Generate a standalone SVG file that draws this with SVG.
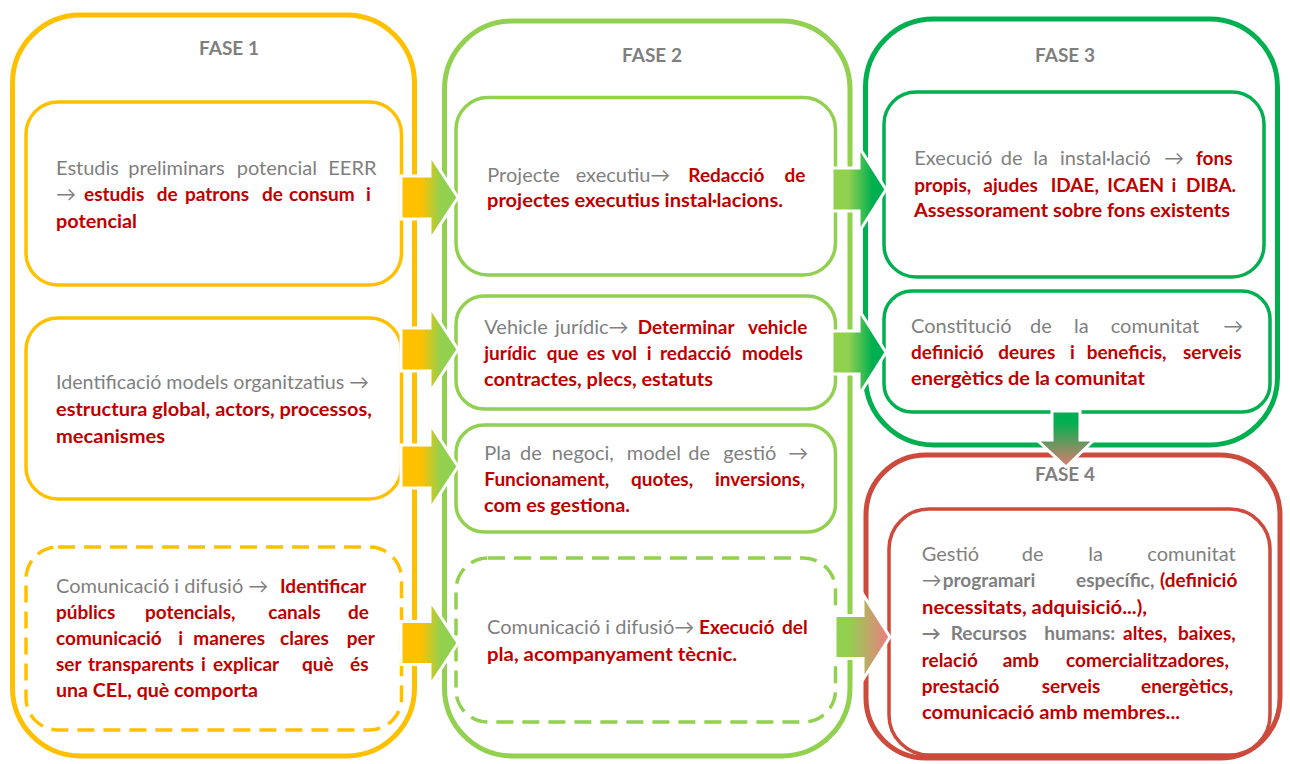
<svg xmlns="http://www.w3.org/2000/svg" width="1290" height="764" viewBox="0 0 1290 764">
<defs>
<style>
.outer{fill:none;stroke-width:5}
.inner{fill:#fff;stroke-width:3.5}
.y{stroke:#FFC000}.lg{stroke:#92D050}.g{stroke:#00B050}.r{stroke:#CC4B3C}
.dash{stroke-dasharray:17 9}
.t{font-family:Lato,'Liberation Sans','DejaVu Sans',sans-serif;font-size:20px;fill:#7F7F7F}
.b{font-weight:bold;fill:#C00000;font-size:19px}
.gb{font-weight:bold;fill:#7F7F7F;font-size:19px}
.title{font-family:Lato,'Liberation Sans',sans-serif;font-weight:bold;font-size:19px;fill:#7F7F7F;text-anchor:middle}
.arrow{stroke:#fff;stroke-width:3;stroke-linejoin:miter}
</style>
<linearGradient id="gY" x1="0" y1="0" x2="1" y2="0"><stop offset="0.35" stop-color="#FFC000"/><stop offset="0.7" stop-color="#92D050"/></linearGradient>
<linearGradient id="gG" x1="0" y1="0" x2="1" y2="0"><stop offset="0.3" stop-color="#92D050"/><stop offset="0.75" stop-color="#00B050"/></linearGradient>
<linearGradient id="gR" x1="0" y1="0" x2="1" y2="0"><stop offset="0.25" stop-color="#92D050"/><stop offset="0.9" stop-color="#E3867B"/></linearGradient>
<linearGradient id="gD" x1="0" y1="0" x2="0" y2="1"><stop offset="0.2" stop-color="#00B050"/><stop offset="1" stop-color="#E07A6E"/></linearGradient>
</defs>
<rect width="1290" height="764" fill="#fff"/>

<g id="fase1">
<rect class="outer y" x="12.5" y="15" width="402" height="741" rx="68"/>
<text class="title" x="229" y="55">FASE 1</text>
</g>
<g id="fase2">
<rect class="outer lg" x="444.5" y="21" width="405.5" height="735" rx="68"/>
<text class="title" x="652" y="62">FASE 2</text>
</g>
<g id="fase3">
<rect class="outer g" x="865.5" y="19" width="412" height="426" rx="68"/>
<text class="title" x="1065" y="62">FASE 3</text>
</g>
<g id="fase4">
<rect class="outer r" x="866" y="455" width="414" height="303" rx="60"/>
<text class="title" x="1065" y="481">FASE 4</text>
</g>

<g id="estudis">
<rect class="inner y" x="26" y="102" width="375.5" height="183" rx="32"/>
<text class="t" y="175"><tspan x="56">Estudis</tspan><tspan x="128.3">preliminars</tspan><tspan x="236.7">potencial</tspan><tspan x="328.3">EERR</tspan></text>
<text class="t" y="201"><tspan x="56">→</tspan><tspan class="b" x="84">estudis</tspan><tspan class="b" x="156.7">de</tspan><tspan class="b" x="185">patrons</tspan><tspan class="b" x="262">de</tspan><tspan class="b" x="289">consum</tspan><tspan class="b" x="366">i</tspan></text>
<text class="t b" x="56" y="228" textLength="81" lengthAdjust="spacingAndGlyphs">potencial</text>
</g>

<g id="models">
<rect class="inner y" x="26" y="318" width="375.5" height="181" rx="32"/>
<text class="t" x="56" y="389" textLength="313" lengthAdjust="spacingAndGlyphs">Identificació models organitzatius →</text>
<text class="t b" x="56" y="416" textLength="316" lengthAdjust="spacingAndGlyphs">estructura global, actors, processos,</text>
<text class="t b" x="56" y="443" textLength="109" lengthAdjust="spacingAndGlyphs">mecanismes</text>
</g>

<g id="comunicacio1">
<rect class="inner y dash" x="26" y="547" width="375.5" height="183" rx="32"/>
<text class="t" y="593"><tspan x="56">Comunicació i difusió →</tspan><tspan class="b" x="280">Identificar</tspan></text>
<text class="t b" y="619"><tspan x="56">públics</tspan><tspan x="145">potencials,</tspan><tspan x="268.3">canals</tspan><tspan x="348">de</tspan></text>
<text class="t b" y="645"><tspan x="56">comunicació</tspan><tspan x="178.3">i</tspan><tspan x="193.3">maneres</tspan><tspan x="280">clares</tspan><tspan x="346.7">per</tspan></text>
<text class="t b" y="671"><tspan x="56">ser</tspan><tspan x="88">transparents</tspan><tspan x="201">i</tspan><tspan x="213">explicar</tspan><tspan x="302">què</tspan><tspan x="350">és</tspan></text>
<text class="t b" x="56" y="697" textLength="202" lengthAdjust="spacingAndGlyphs">una CEL, què comporta</text>
</g>

<g id="projecte">
<rect class="inner lg" x="456" y="97.5" width="379.5" height="177.5" rx="32"/>
<text class="t" y="182"><tspan x="487.3">Projecte</tspan><tspan x="575.7">executiu→</tspan><tspan class="b" x="688.3">Redacció</tspan><tspan class="b" x="784.5">de</tspan></text>
<text class="t b" x="487" y="207" textLength="296" lengthAdjust="spacingAndGlyphs">projectes executius instal·lacions.</text>
</g>

<g id="vehicle">
<rect class="inner lg" x="456" y="296" width="379.5" height="113" rx="28"/>
<text class="t" y="334"><tspan x="484.3">Vehicle</tspan><tspan x="555">jurídic→</tspan><tspan class="b" x="637.7">Determinar</tspan><tspan class="b" x="748">vehicle</tspan></text>
<text class="t b" y="360"><tspan x="484.3">jurídic</tspan><tspan x="546.7">que</tspan><tspan x="586.7">es</tspan><tspan x="611.7">vol</tspan><tspan x="646.7">i</tspan><tspan x="660">redacció</tspan><tspan x="742">models</tspan></text>
<text class="t b" x="484" y="386" textLength="229" lengthAdjust="spacingAndGlyphs">contractes, plecs, estatuts</text>
</g>

<g id="negoci">
<rect class="inner lg" x="456" y="425" width="379.5" height="107" rx="28"/>
<text class="t" y="460"><tspan x="484.3">Pla</tspan><tspan x="520">de</tspan><tspan x="551.7">negoci,</tspan><tspan x="626.7">model</tspan><tspan x="688.3">de</tspan><tspan x="723.3">gestió</tspan><tspan x="788.3">→</tspan></text>
<text class="t b" y="486"><tspan x="484.3">Funcionament,</tspan><tspan x="631">quotes,</tspan><tspan x="715">inversions,</tspan></text>
<text class="t b" x="484" y="512" textLength="146" lengthAdjust="spacingAndGlyphs">com es gestiona.</text>
</g>

<g id="comunicacio2">
<rect class="inner lg dash" x="456" y="558" width="379.5" height="164" rx="32"/>
<text class="t" y="634"><tspan x="487">Comunicació i difusió→</tspan><tspan class="b" x="699">Execució</tspan><tspan class="b" x="782">del</tspan></text>
<text class="t b" x="487" y="661" textLength="250" lengthAdjust="spacingAndGlyphs">pla, acompanyament tècnic.</text>
</g>

<g id="execucio">
<rect class="inner g" x="884" y="92" width="380" height="185" rx="32"/>
<text class="t" y="165"><tspan x="914.3">Execució</tspan><tspan x="1000.7">de</tspan><tspan x="1033.3">la</tspan><tspan x="1060">instal·lació</tspan><tspan x="1164">→</tspan><tspan class="b" x="1196">fons</tspan></text>
<text class="t b" y="192"><tspan x="914.3">propis,</tspan><tspan x="983.3">ajudes</tspan><tspan x="1050.7">IDAE,</tspan><tspan x="1107.3">ICAEN</tspan><tspan x="1171.5">i</tspan><tspan x="1186">DIBA.</tspan></text>
<text class="t b" x="914" y="217" textLength="316" lengthAdjust="spacingAndGlyphs">Assessorament sobre fons existents</text>
</g>

<g id="constitucio">
<rect class="inner g" x="884" y="291" width="386" height="121" rx="28"/>
<text class="t" y="333"><tspan x="911">Constitució</tspan><tspan x="1030">de</tspan><tspan x="1074">la</tspan><tspan x="1110.7">comunitat</tspan><tspan x="1223.3">→</tspan></text>
<text class="t b" y="359"><tspan x="911">definició</tspan><tspan x="998.3">deures</tspan><tspan x="1070">i</tspan><tspan x="1086.7">beneficis,</tspan><tspan x="1183">serveis</tspan></text>
<text class="t b" x="911" y="385" textLength="234" lengthAdjust="spacingAndGlyphs">energètics de la comunitat</text>
</g>

<g id="gestio">
<rect class="inner r" x="889" y="509" width="381" height="246" rx="40"/>
<text class="t" y="561"><tspan x="921.7">Gestió</tspan><tspan x="1021.7">de</tspan><tspan x="1088.3">la</tspan><tspan x="1147.3">comunitat</tspan></text>
<text class="t" y="587"><tspan x="921.7">→</tspan><tspan class="gb" x="942.7">programari</tspan><tspan class="gb" x="1076">específic,</tspan><tspan class="b" x="1160">(definició</tspan></text>
<text class="t b" x="922" y="614" textLength="225" lengthAdjust="spacingAndGlyphs">necessitats, adquisició...),</text>
<text class="t gb" y="640"><tspan x="921.7">→</tspan><tspan x="950.7">Recursos</tspan><tspan x="1044.3">humans:</tspan><tspan class="b" x="1123">altes,</tspan><tspan class="b" x="1178">baixes,</tspan></text>
<text class="t b" y="667"><tspan x="921.7">relació</tspan><tspan x="1002.7">amb</tspan><tspan x="1066">comercialitzadores,</tspan></text>
<text class="t b" y="693"><tspan x="921.7">prestació</tspan><tspan x="1041.7">serveis</tspan><tspan x="1141">energètics,</tspan></text>
<text class="t b" x="922" y="719" textLength="258" lengthAdjust="spacingAndGlyphs">comunicació amb membres...</text>
</g>

<g id="connectors">
<polygon class="arrow" fill="url(#gY)" points="401,176 430,176 430,155 458,197.5 430,240 430,219 401,219"/>
<polygon class="arrow" fill="url(#gY)" points="401,328 430,328 430,307 458,349.5 430,392 430,371 401,371"/>
<polygon class="arrow" fill="url(#gY)" points="401,445 430,445 430,424 458,466.5 430,509 430,488 401,488"/>
<polygon class="arrow" fill="url(#gY)" points="401,621.5 430,621.5 430,600.5 458,643 430,685.5 430,664.5 401,664.5"/>
<polygon class="arrow" fill="url(#gG)" points="832,168 859,168 859,147 886,189.5 859,232 859,211 832,211"/>
<polygon class="arrow" fill="url(#gG)" points="832,331 859,331 859,310 886,352.5 859,395 859,374 832,374"/>
<polygon class="arrow" fill="url(#gR)" points="835,615.5 863,615.5 863,594.5 890,637 863,679.5 863,658.5 835,658.5"/>
<polygon class="arrow" fill="url(#gD)" points="1052,411 1080,411 1080,440 1094,440 1066,467 1037,440 1052,440"/>
</g>
</svg>
